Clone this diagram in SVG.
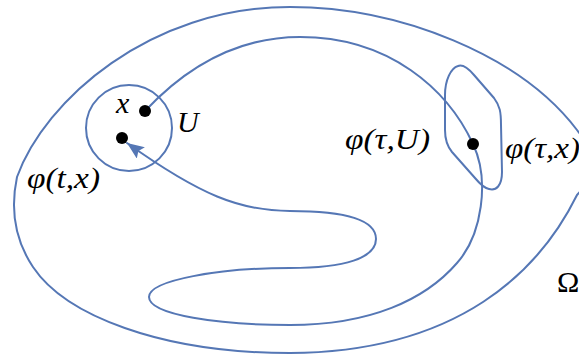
<svg xmlns="http://www.w3.org/2000/svg" width="579" height="356" viewBox="0 0 579 356">
<style>
.c{fill:none;stroke:#5577b5;stroke-width:2;stroke-linejoin:round;stroke-linecap:round}
.d{fill:#000}
.t{font-family:"Liberation Serif","DejaVu Serif",serif;font-style:italic;font-size:30px;fill:#000}
.u{font-family:"Liberation Serif","DejaVu Serif",serif;font-size:30px;fill:#000}
</style>
<defs>
<marker id="ah" markerUnits="userSpaceOnUse" markerWidth="18" markerHeight="14" viewBox="0 0 18 14" refX="17" refY="7" orient="auto">
<path d="M0,0 L17,7 L0,14 L3,7 Z" fill="#5577b5"/>
</marker>
</defs>
<g id="omega">
<path class="c" d="M290,7 C400,7 520,55 577,130 C600,160 600,170 577,195 C540,270 460,352 290,353 C160,353 65,315 33,267 C15,240 10,210 17,177 C45,100 150,7 290,7 Z"/>
<text class="u" x="557" y="292">Ω</text>
</g>
<g id="U">
<circle class="c" cx="129" cy="128" r="43"/>
<text class="t" x="177" y="132">U</text>
</g>
<g id="phiU">
<path class="c" d="M458,66 C463,64 468,68 474,75 L494,98 C500,106 501,112 501,125 L502,172 C502,186 496,191 489,189 C484,188 480,184 475,178 L452,152 C447,146 445,140 445,130 L445,95 C445,80 451,68 458,66 Z"/>
<text class="t" x="345" y="149" textLength="85" lengthAdjust="spacingAndGlyphs">φ(τ,U)</text>
</g>
<g id="connectors">
<path class="c" marker-end="url(#ah)" d="M145,111 C190,63 240,37 300,37 C390,37 448,90 473,144 C490,180 482,235 457,263 C425,300 370,325 290,325 C220,325 149,315 149,297 C149,280 220,268 290,268 C345,268 376,258 376,239 C376,220 345,211 290,211 C240,211 200,195 127,143"/>
</g>
<g id="x">
<circle class="d" cx="145" cy="111" r="6"/>
<text class="t" x="116" y="113">x</text>
</g>
<g id="phitx">
<circle class="d" cx="122" cy="138" r="6"/>
<text class="t" x="27" y="188" textLength="73" lengthAdjust="spacingAndGlyphs">φ(t,x)</text>
</g>
<g id="phitaux">
<circle class="d" cx="473" cy="144" r="6"/>
<text class="t" x="505" y="158" textLength="75" lengthAdjust="spacingAndGlyphs">φ(τ,x)</text>
</g>
</svg>
